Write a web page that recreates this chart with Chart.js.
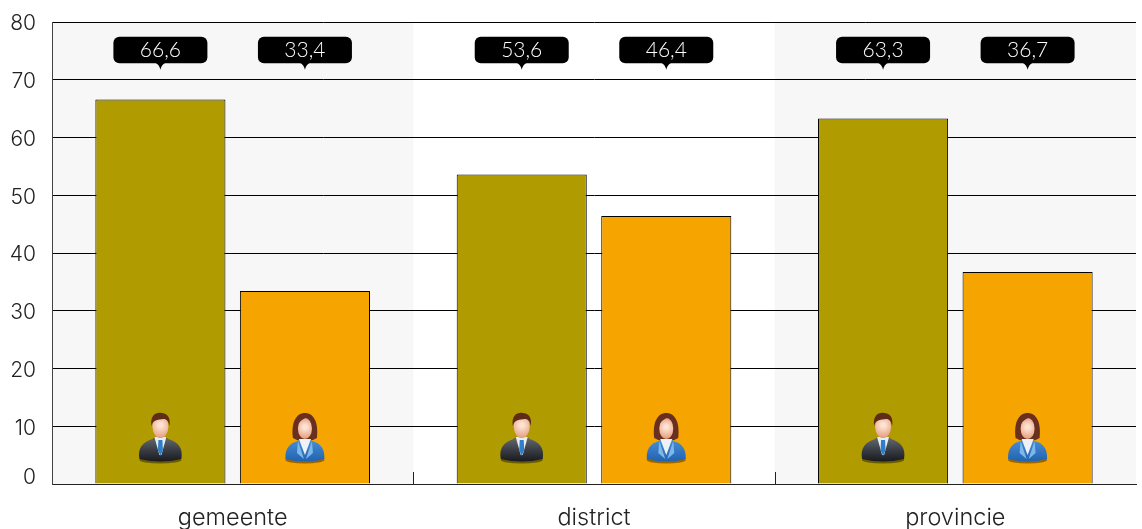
<!DOCTYPE html>
<html>
<head>
<meta charset="utf-8">
<style>html,body{margin:0;padding:0;background:#fff}canvas{display:block}</style>
<script src="https://cdn.jsdelivr.net/npm/chart.js@4"></script>
</head>
<body>
<canvas id="chart" width="1142" height="529"></canvas>
<script>
// data
var categories = ['gemeente', 'district', 'provincie'];
var mannen = [66.6, 53.6, 63.3];
var vrouwen = [33.4, 46.4, 36.7];
var yTicks = [0, 10, 20, 30, 40, 50, 60, 70, 80];
var labelValue = 75.2; // callouts all sit at the same height on the y axis

var font = 'Lato, "Open Sans", sans-serif';
var axisFont = 'Inter, "Open Sans", sans-serif';

function comma(v) {
  return v.toFixed(1).replace('.', ',');
}

// alternating bands behind the grid, and small ticks between the groups
var bands = {
  id: 'bands',
  beforeDraw: function (chart) {
    var a = chart.chartArea, c = chart.ctx;
    var w = (a.right - a.left) / categories.length;
    c.save();
    c.fillStyle = '#f7f7f7';
    categories.forEach(function (n, i) {
      if (i % 2 == 0) c.fillRect(a.left + i * w, a.top, w, a.bottom - a.top);
    });
    c.restore();
  },
  afterDraw: function (chart) {
    var a = chart.chartArea, c = chart.ctx;
    var w = (a.right - a.left) / categories.length;
    c.save();
    c.strokeStyle = '#222';
    c.lineWidth = 1;
    for (var i = 1; i < categories.length; i++) {
      var x = Math.round(a.left + i * w) + 0.5;
      c.beginPath();
      c.moveTo(x, a.bottom - 12);
      c.lineTo(x, a.bottom);
      c.stroke();
    }
    c.restore();
  }
};

function drawMan(c) {
  c.fillStyle = 'rgba(50,40,0,0.55)';
  c.beginPath(); c.ellipse(0, 47, 21, 3.5, 0, 0, Math.PI * 2); c.fill();
  // suit
  var g = c.createLinearGradient(0, 24, 0, 50);
  g.addColorStop(0, '#666a72');
  g.addColorStop(0.5, '#3a3d44');
  g.addColorStop(1, '#14161a');
  c.fillStyle = g;
  c.beginPath();
  c.moveTo(-21, 46);
  c.bezierCurveTo(-23, 34, -17, 29, -8, 26);
  c.lineTo(-6, 24); c.lineTo(6, 24); c.lineTo(8, 26);
  c.bezierCurveTo(17, 29, 23, 34, 21, 46);
  c.quadraticCurveTo(0, 51, -21, 46);
  c.fill();
  // shirt and tie
  c.fillStyle = '#e8edf2';
  c.beginPath(); c.moveTo(-6, 24); c.lineTo(6, 24); c.lineTo(1, 42); c.lineTo(-1, 42); c.fill();
  c.fillStyle = '#2f7fc8';
  c.beginPath(); c.moveTo(-2, 27); c.lineTo(2, 27); c.lineTo(2.5, 37); c.lineTo(0, 43); c.lineTo(-2.5, 37); c.fill();
  // head
  g = c.createRadialGradient(0, 12, 2, 0, 13, 13);
  g.addColorStop(0, '#fde2d2');
  g.addColorStop(1, '#e39672');
  c.fillStyle = g;
  c.beginPath(); c.ellipse(0, 13.5, 8, 11.5, 0, 0, Math.PI * 2); c.fill();
  c.fillStyle = '#5e2c17';
  c.beginPath();
  c.moveTo(-9, 13);
  c.bezierCurveTo(-10.5, 2, -4, -1, 1, 0);
  c.bezierCurveTo(7, 0, 10.5, 5, 9, 13);
  c.bezierCurveTo(8, 8, 6.5, 6, 3, 6);
  c.bezierCurveTo(-2, 7, -7, 6, -9, 13);
  c.fill();
}

function drawWoman(c) {
  c.fillStyle = 'rgba(90,60,0,0.6)';
  c.beginPath(); c.ellipse(0, 47, 19.5, 3.5, 0, 0, Math.PI * 2); c.fill();
  // hair behind
  c.fillStyle = '#69301f';
  c.beginPath();
  c.moveTo(-12, 25);
  c.bezierCurveTo(-14, 8, -8, 0, 0, 0);
  c.bezierCurveTo(8, 0, 14, 8, 12, 25);
  c.quadraticCurveTo(6, 29, 0, 27);
  c.quadraticCurveTo(-6, 29, -12, 25);
  c.fill();
  // jacket
  var g = c.createLinearGradient(0, 26, 0, 50);
  g.addColorStop(0, '#4a90d4');
  g.addColorStop(1, '#1f5fae');
  c.fillStyle = g;
  c.beginPath();
  c.moveTo(-19.5, 46);
  c.bezierCurveTo(-20, 35, -15, 30, -7, 28);
  c.lineTo(-5, 26); c.lineTo(5, 26); c.lineTo(7, 28);
  c.bezierCurveTo(15, 30, 20, 35, 19.5, 46);
  c.quadraticCurveTo(0, 51, -19.5, 46);
  c.fill();
  // lapels
  c.fillStyle = '#7db8ea';
  c.beginPath(); c.moveTo(-7, 28); c.lineTo(-1, 46); c.lineTo(-8, 40); c.fill();
  c.beginPath(); c.moveTo(7, 28); c.lineTo(1, 46); c.lineTo(8, 40); c.fill();
  c.fillStyle = '#eef2f6';
  c.beginPath(); c.moveTo(-6, 26); c.lineTo(6, 26); c.lineTo(0, 42); c.fill();
  // face
  g = c.createRadialGradient(0, 14, 2, 0, 15, 11);
  g.addColorStop(0, '#fde2d2');
  g.addColorStop(1, '#e49a78');
  c.fillStyle = g;
  c.beginPath(); c.ellipse(0, 15.5, 7, 10.5, 0, 0, Math.PI * 2); c.fill();
  c.fillStyle = '#69301f';
  c.beginPath();
  c.moveTo(-8, 14);
  c.bezierCurveTo(-6, 8, -2, 6, 3, 4);
  c.bezierCurveTo(5, 6, 7, 9, 8, 14);
  c.bezierCurveTo(9, 4, 4, 1, 0, 1);
  c.bezierCurveTo(-6, 1, -9, 6, -8, 14);
  c.fill();
}

// speech-bubble labels and the person icons on the bars
var overlays = {
  id: 'overlays',
  afterDatasetsDraw: function (chart) {
    var c = chart.ctx, yScale = chart.scales.y;
    var top = yScale.getPixelForValue(labelValue) - 13;
    chart.data.datasets.forEach(function (ds, d) {
      chart.getDatasetMeta(d).data.forEach(function (bar, i) {
        var x = bar.x;
        c.save();
        c.translate(x, yScale.bottom - 71);
        if (d == 0) drawMan(c); else drawWoman(c);
        c.restore();

        c.save();
        c.fillStyle = '#000';
        c.beginPath();
        c.roundRect(x - 47, top, 94, 26.5, 6);
        c.fill();
        c.beginPath();
        c.moveTo(x - 5, top + 26);
        c.quadraticCurveTo(x - 1, top + 28, x, top + 33);
        c.quadraticCurveTo(x + 1, top + 28, x + 5, top + 26);
        c.fill();
        c.fillStyle = '#fff';
        c.font = '300 21px ' + font;
        c.textAlign = 'center';
        c.textBaseline = 'middle';
        c.fillText(comma(ds.data[i]), x, top + 14);
        c.restore();
      });
    });
  }
};

new Chart(document.getElementById('chart').getContext('2d'), {
  type: 'bar',
  data: {
    labels: categories,
    datasets: [
      { label: 'mannen', data: mannen, backgroundColor: '#b09b00', borderColor: '#000', borderWidth: 1 },
      { label: 'vrouwen', data: vrouwen, backgroundColor: '#f5a400', borderColor: '#000', borderWidth: 1 }
    ]
  },
  options: {
    responsive: false,
    animation: false,
    layout: { padding: { top: 22, right: 6, left: 0, bottom: 0 } },
    categoryPercentage: 0.8,
    barPercentage: 0.9,
    plugins: { legend: { display: false }, tooltip: { enabled: false } },
    scales: {
      x: {
        grid: { display: false },
        border: { color: '#222', width: 1 },
        afterFit: function (s) { s.height = 45; },
        ticks: { color: '#222', padding: 12, maxRotation: 0, font: { family: axisFont, size: 23.5, weight: '300' } }
      },
      y: {
        min: 0,
        max: 80,
        afterFit: function (s) { s.width = 52; s.paddingTop = 0; s.paddingBottom = 0; },
        afterBuildTicks: function (s) { s.ticks = yTicks.map(function (v) { return { value: v }; }); },
        grid: { color: '#000', lineWidth: 1, drawTicks: false },
        border: { color: '#444', width: 1 },
        ticks: {
          color: '#222',
          padding: 16,
          // the reference sets its labels a little below the lines, and the 0 well above its line;
          // an empty second line plus the line height nudges them there
          callback: function (v) { return v == 0 ? ['0', ''] : ['', String(v)]; },
          font: function (ctx) {
            var zero = ctx.tick && ctx.tick.value == 0;
            return { family: axisFont, size: 21, weight: '300', lineHeight: zero ? '12px' : '4px' };
          }
        }
      }
    }
  },
  plugins: [bands, overlays]
});
</script>
</body>
</html>
